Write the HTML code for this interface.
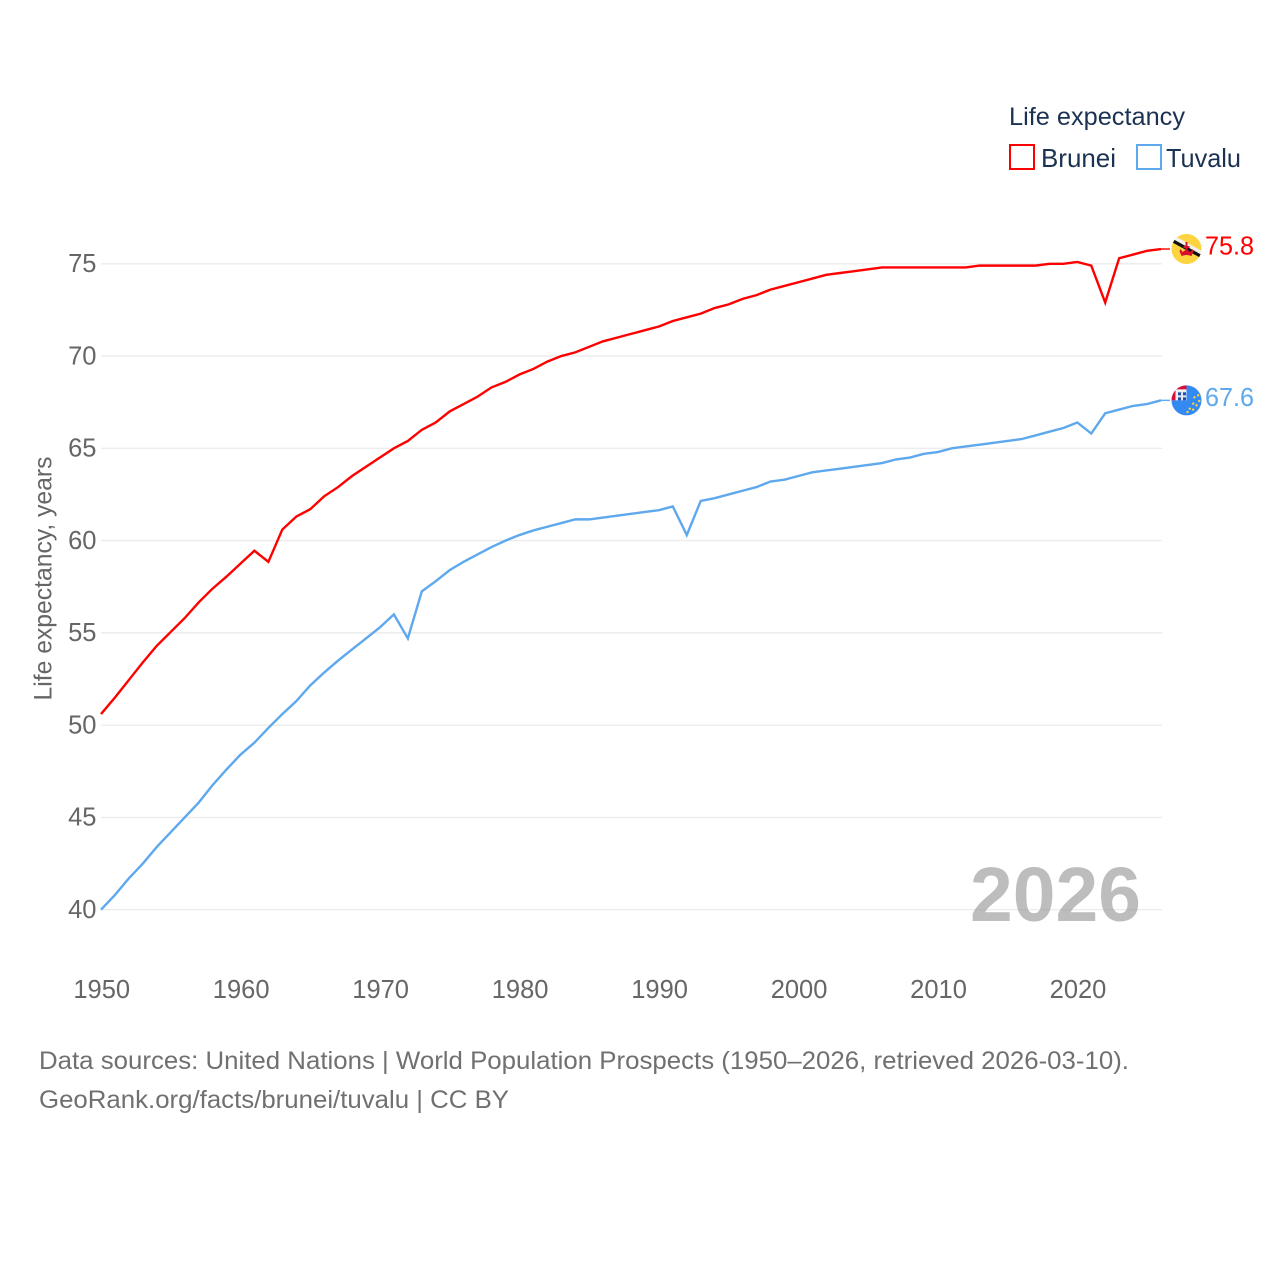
<!DOCTYPE html>
<html lang="en">
<head>
<meta charset="utf-8">
<title>Life expectancy: Brunei and Tuvalu</title>
<style>
  html, body { margin: 0; padding: 0; background: #fff; }
  svg { display: block; font-family: "Liberation Sans", sans-serif; }
</style>
</head>
<body>
<svg id="chart" xmlns="http://www.w3.org/2000/svg" width="1280" height="1280" viewBox="0 0 1280 1280">
  <defs>
    <clipPath id="flag-clip"><circle cx="0" cy="0" r="15"></circle></clipPath>
  </defs>
  <rect x="0" y="0" width="1280" height="1280" fill="#ffffff"></rect>
  <g id="grid"></g>
  <g id="yticks"></g>
  <g id="xticks"></g>
  <text transform="translate(51.5 578.5) rotate(-90)" text-anchor="middle" font-size="25" fill="#666666" textLength="244" lengthAdjust="spacingAndGlyphs">Life expectancy, years</text>
  <text x="970" y="921" font-size="77" font-weight="bold" fill="#999999" fill-opacity="0.65" textLength="171" lengthAdjust="spacingAndGlyphs">2026</text>
  <g id="series"></g>

  <g>
    <text x="1009" y="125" font-size="25" fill="#1b3252" textLength="176" lengthAdjust="spacingAndGlyphs">Life expectancy</text>
    <g>
      <rect x="1010" y="145" width="24" height="24" fill="#ffffff" stroke="#ff0000" stroke-width="2"></rect>
      <text x="1041" y="167" font-size="26" fill="#1b3252" textLength="75" lengthAdjust="spacingAndGlyphs">Brunei</text>
    </g>
    <g>
      <rect x="1137" y="145" width="24" height="24" fill="#ffffff" stroke="#5ea8ee" stroke-width="2"></rect>
      <text x="1166" y="167" font-size="26" fill="#1b3252" textLength="75" lengthAdjust="spacingAndGlyphs">Tuvalu</text>
    </g>
  </g>

  <g id="flag-brunei">
    <g clip-path="url(#flag-clip)">
      <rect x="-16" y="-16" width="32" height="32" fill="#fdd33f"></rect>
      <polygon points="-16,-11.3 16,6.3 16,2.3 -16,-15.3" fill="#f2f2f2"></polygon>
      <polygon points="-16,-11.3 16,6.3 16,10 -16,-7.6" fill="#111111"></polygon>
      <polygon points="-1,-7 1,-7 1,-3 3,-3 3,-1 1,-1 1,1 4,3 6,0 7,2 5,7 1,6 -1,6 -5,7 -7,2 -6,0 -4,3 -1,1 -1,-1 -3,-1 -3,-3 -1,-3" fill="#d8102f"></polygon>
    </g>
  </g>
  <g id="flag-tuvalu">
    <g clip-path="url(#flag-clip)">
      <rect x="-16" y="-16" width="32" height="32" fill="#338af3"></rect>
      <rect x="-16" y="-16" width="16" height="16" fill="#f0f0f0"></rect>
      <rect x="-16" y="-16" width="16" height="5" fill="#d80f36"></rect>
      <rect x="-16" y="-16" width="5" height="16" fill="#d80f36"></rect>
      <rect x="-8.5" y="-8" width="8" height="8" fill="#1f4fa8"></rect>
      <rect x="-5.5" y="-8" width="2" height="8" fill="#e8e8f0"></rect>
      <rect x="-8.5" y="-5" width="8" height="2" fill="#e8e8f0"></rect>
      <circle cx="11.7" cy="-5" r="1.2" fill="#fdd33f"></circle>
      <circle cx="8" cy="-3" r="1.2" fill="#fdd33f"></circle>
      <circle cx="12.7" cy="0.7" r="1.2" fill="#fdd33f"></circle>
      <circle cx="6.7" cy="3.3" r="1.2" fill="#fdd33f"></circle>
      <circle cx="10" cy="5" r="1.2" fill="#fdd33f"></circle>
      <circle cx="3.3" cy="8.3" r="1.2" fill="#fdd33f"></circle>
      <circle cx="6.7" cy="9.3" r="1.2" fill="#fdd33f"></circle>
      <circle cx="1" cy="11.7" r="1.2" fill="#fdd33f"></circle>
    </g>
  </g>
  <g id="end-labels"></g>

  <g>
    <text x="39" y="1069" font-size="25" fill="#707070" textLength="1090" lengthAdjust="spacingAndGlyphs">Data sources: United Nations | World Population Prospects (1950–2026, retrieved 2026-03-10).</text>
    <text x="39" y="1108" font-size="25" fill="#707070" textLength="470" lengthAdjust="spacingAndGlyphs">GeoRank.org/facts/brunei/tuvalu | CC BY</text>
  </g>
</svg>
<script>
const firstYear = 1950;
const bruneiValues = [
  50.6, 51.5, 52.45, 53.4, 54.3, 55.05, 55.8, 56.65, 57.4, 58.05,
  58.75, 59.45, 58.85, 60.6, 61.3, 61.7, 62.4, 62.9, 63.5, 64.0,
  64.5, 65.0, 65.4, 66.0, 66.4, 67.0, 67.4, 67.8, 68.3, 68.6,
  69.0, 69.3, 69.7, 70.0, 70.2, 70.5, 70.8, 71.0, 71.2, 71.4,
  71.6, 71.9, 72.1, 72.3, 72.6, 72.8, 73.1, 73.3, 73.6, 73.8,
  74.0, 74.2, 74.4, 74.5, 74.6, 74.7, 74.8, 74.8, 74.8, 74.8,
  74.8, 74.8, 74.8, 74.9, 74.9, 74.9, 74.9, 74.9, 75.0, 75.0,
  75.1, 74.9, 72.9, 75.3, 75.5, 75.7, 75.8
];
const tuvaluValues = [
  40.0, 40.8, 41.7, 42.5, 43.4, 44.2, 45.0, 45.8, 46.75, 47.6,
  48.4, 49.05, 49.85, 50.6, 51.3, 52.15, 52.85, 53.5, 54.1, 54.7,
  55.3, 56.0, 54.7, 57.25, 57.8, 58.4, 58.85, 59.25, 59.65, 60.0,
  60.3, 60.55, 60.75, 60.95, 61.15, 61.15, 61.25, 61.35, 61.45, 61.55,
  61.65, 61.85, 60.3, 62.15, 62.3, 62.5, 62.7, 62.9, 63.2, 63.3,
  63.5, 63.7, 63.8, 63.9, 64.0, 64.1, 64.2, 64.4, 64.5, 64.7,
  64.8, 65.0, 65.1, 65.2, 65.3, 65.4, 65.5, 65.7, 65.9, 66.1,
  66.4, 65.8, 66.9, 67.1, 67.3, 67.4, 67.6
];
const yTickValues = [40, 45, 50, 55, 60, 65, 70, 75];
const xTickValues = [1950, 1960, 1970, 1980, 1990, 2000, 2010, 2020];

const NS = 'http://www.w3.org/2000/svg';
function xScale(year) { return 101 + (year - 1950) * (1161 - 101) / 76; }
function yScale(value) { return 909.7 - (value - 40) * 18.455; }

function make(parent, tag, attrs) {
  const el = document.createElementNS(NS, tag);
  Object.keys(attrs).forEach(function (k) { el.setAttribute(k, attrs[k]); });
  parent.appendChild(el);
  return el;
}

const gridGroup = document.getElementById('grid');
const yTickGroup = document.getElementById('yticks');
const xTickGroup = document.getElementById('xticks');
const seriesGroup = document.getElementById('series');
const labelGroup = document.getElementById('end-labels');

yTickValues.forEach(function (v) {
  const line = make(gridGroup, 'line', { x1: 101, x2: 1162, y1: yScale(v), y2: yScale(v), stroke: '#ececec', 'stroke-width': 1.4 });
  
  
  const label = make(yTickGroup, 'text', { x: 96.5, y: yScale(v) + 8.2, 'text-anchor': 'end', 'font-size': 25.5, fill: '#666666' });
  label.textContent = String(v);
  
  
});

xTickValues.forEach(function (year) {
  const label = make(xTickGroup, 'text', { x: xScale(year) + 0.7, y: 998, 'text-anchor': 'middle', 'font-size': 25.5, fill: '#666666' });
  label.textContent = String(year);
  
  
});

function linePath(values) {
  return values.map(function (v, i) {
    return (i === 0 ? 'M' : 'L') + xScale(firstYear + i).toFixed(2) + ' ' + yScale(v).toFixed(2);
  }).join(' ');
}

function drawSeries(key, values, color, flagId) {
  const path = make(seriesGroup, 'path', { d: linePath(values), fill: 'none', stroke: color, 'stroke-width': 2.4, 'stroke-linejoin': 'miter' });
  
  
  const last = values[values.length - 1];
  const lastX = xScale(firstYear + values.length - 1);
  const lastY = yScale(last);
  const connector = make(seriesGroup, 'line', { x1: lastX, x2: lastX + 9, y1: lastY, y2: lastY, stroke: color, 'stroke-width': 1.4 });
  
  
  document.getElementById(flagId).setAttribute('transform', 'translate(1186.5 ' + lastY.toFixed(2) + ')');
  const label = make(labelGroup, 'text', { x: 1205, y: lastY + 5.7, 'font-size': 26, fill: color, textLength: 49, lengthAdjust: 'spacingAndGlyphs' });
  label.textContent = last.toFixed(1);
  
  
}

drawSeries('brunei', bruneiValues, '#ff0000', 'flag-brunei');
drawSeries('tuvalu', tuvaluValues, '#5ea8ee', 'flag-tuvalu');
</script>
</body>
</html>
